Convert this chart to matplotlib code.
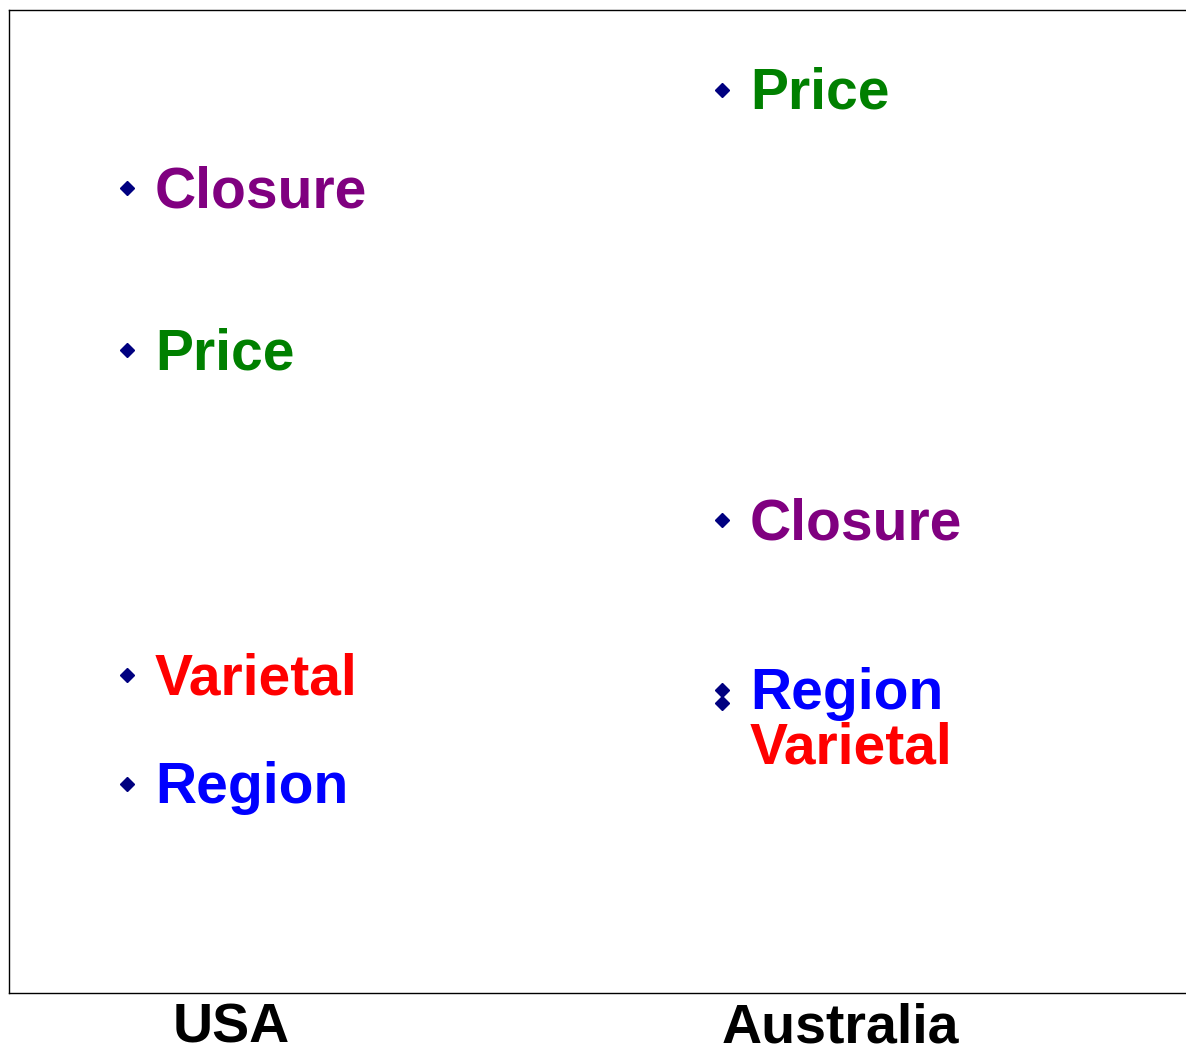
import matplotlib
matplotlib.use("Agg")
import matplotlib.pyplot as plt

plt.rcParams['font.family'] = ['Liberation Sans', 'DejaVu Sans']

countries = ["USA", "Australia"]
attributes = ["Closure", "Price", "Varietal", "Region"]
attr_colors = {"Closure": "#800080", "Price": "#008000", "Varietal": "#ff0000", "Region": "#0000ff"}
usa_values = [8.19, 6.54, 3.23, 2.13]
aus_values = [4.81, 9.19, 2.95, 3.08]

W, H = 1186, 1050
fig = plt.figure(figsize=(W / 100, H / 100), dpi=100)
ax = fig.add_axes([9 / W, (H - 993) / H, (W - 9) / W, 983 / H])

xpos = {"USA": 0, "Australia": 1}
values = {"USA": usa_values, "Australia": aus_values}

for c in countries:
    x = xpos[c]
    for a, v in zip(attributes, values[c]):
        ax.plot([x], [v], marker='D', color='#000080', markersize=7, linestyle='none')
        dy = -3
        if c == "Australia" and a == "Varietal":
            dy = -33
        ax.annotate(a, (x, v), xytext=(20, dy), textcoords='offset points',
                    ha='left', va='center', fontsize=41, fontweight='bold',
                    color=attr_colors[a])

ax.set_xlim(-118 / 595, -118 / 595 + (W - 9) / 595)
ax.set_ylim(0, 10)
ax.set_yticks([])
ax.set_xticks([104 / 595, 1 + 118 / 595])
ax.set_xticklabels(countries, fontsize=40, fontweight='bold')
ax.tick_params(axis='x', length=0, pad=7)
for s in ['left', 'top', 'bottom']:
    ax.spines[s].set_linewidth(1.0)
ax.spines['right'].set_visible(False)

fig.savefig("out.png", dpi=100)
